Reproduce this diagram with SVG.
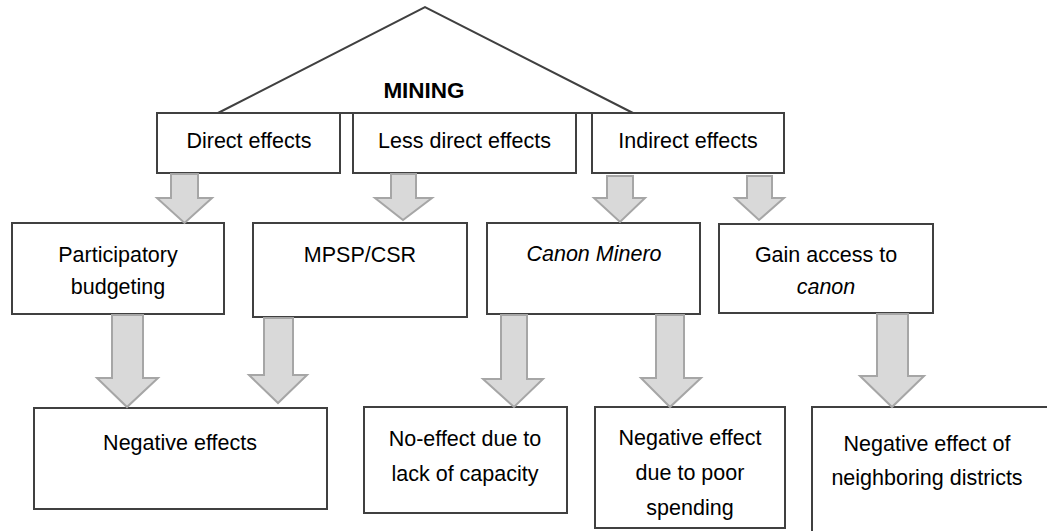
<svg xmlns="http://www.w3.org/2000/svg" width="1047" height="531" viewBox="0 0 1047 531">
<style>
.box{fill:#fff;stroke:#404040;stroke-width:2}
.arr{fill:#d9d9d9;stroke:#a6a6a6;stroke-width:2;stroke-linejoin:miter}
.t{font-family:"Liberation Sans",Arial,sans-serif;font-size:21.5px;fill:#000;text-anchor:middle}
.i{font-style:italic}
.b{font-weight:bold;font-size:22.5px}
</style>
<rect width="1047" height="531" fill="#fff"/>
<g id="mining">
<polyline points="218,113 425,7 633,113" fill="none" stroke="#404040" stroke-width="2"/>
<line x1="157" y1="113" x2="784" y2="113" stroke="#404040" stroke-width="2"/>
<text class="t b" x="424" y="98">MINING</text>
</g>
<g id="direct">
<rect class="box" x="157" y="113" width="183" height="60"/>
<text class="t" x="249" y="148">Direct effects</text>
</g>
<g id="lessdirect">
<rect class="box" x="353" y="113" width="223" height="60"/>
<text class="t" x="464.5" y="148">Less direct effects</text>
</g>
<g id="indirect">
<rect class="box" x="592" y="113" width="192" height="60"/>
<text class="t" x="688" y="148">Indirect effects</text>
</g>
<g id="participatory">
<rect class="box" x="12" y="223" width="212" height="91"/>
<text class="t" x="118" y="262">Participatory</text>
<text class="t" x="118" y="294">budgeting</text>
</g>
<g id="mpsp">
<rect class="box" x="253" y="223" width="214" height="94"/>
<text class="t" x="360" y="262">MPSP/CSR</text>
</g>
<g id="canon">
<rect class="box" x="487" y="223" width="213" height="91"/>
<text class="t i" x="594" y="261">Canon Minero</text>
</g>
<g id="gain">
<rect class="box" x="719" y="224" width="214" height="89"/>
<text class="t" x="826" y="262">Gain access to</text>
<text class="t i" x="826" y="294">canon</text>
</g>
<g id="negeffects">
<rect class="box" x="34" y="408" width="293" height="101"/>
<text class="t" x="180" y="450">Negative effects</text>
</g>
<g id="noeffect">
<rect class="box" x="364" y="407" width="203" height="106"/>
<text class="t" x="465" y="446">No-effect due to</text>
<text class="t" x="465" y="481">lack of capacity</text>
</g>
<g id="poorspending">
<rect class="box" x="595" y="407" width="190" height="121"/>
<text class="t" x="690" y="445">Negative effect</text>
<text class="t" x="690" y="480">due to poor</text>
<text class="t" x="690" y="515">spending</text>
</g>
<g id="neighboring">
<rect class="box" x="812" y="407" width="245" height="140"/>
<text class="t" x="927" y="451">Negative effect of</text>
<text class="t" x="927" y="485">neighboring districts</text>
</g>
<g id="connectors">
<path class="arr" d="M171,174 H198 V198 H212 L184.5,223 L157,198 H171 Z"/>
<path class="arr" d="M391,174 H416 V198 H432 L403,220 L375,198 H391 Z"/>
<path class="arr" d="M607,176 H633 V198 H645 L620,222 L594,198 H607 Z"/>
<path class="arr" d="M747,176 H772 V198 H784 L759,220 L735,198 H747 Z"/>
<path class="arr" d="M112,315 H143 V378 H158 L127,407 L97,378 H112 Z"/>
<path class="arr" d="M264,318 H293 V375 H307 L278,403 L249,375 H264 Z"/>
<path class="arr" d="M501,315 H527 V379 H543 L514,407 L483,379 H501 Z"/>
<path class="arr" d="M656,315 H684 V378 H701 L670,407 L641,378 H656 Z"/>
<path class="arr" d="M877,314 H908 V376 H924 L892,407 L860,376 H877 Z"/>
</g>
</svg>
